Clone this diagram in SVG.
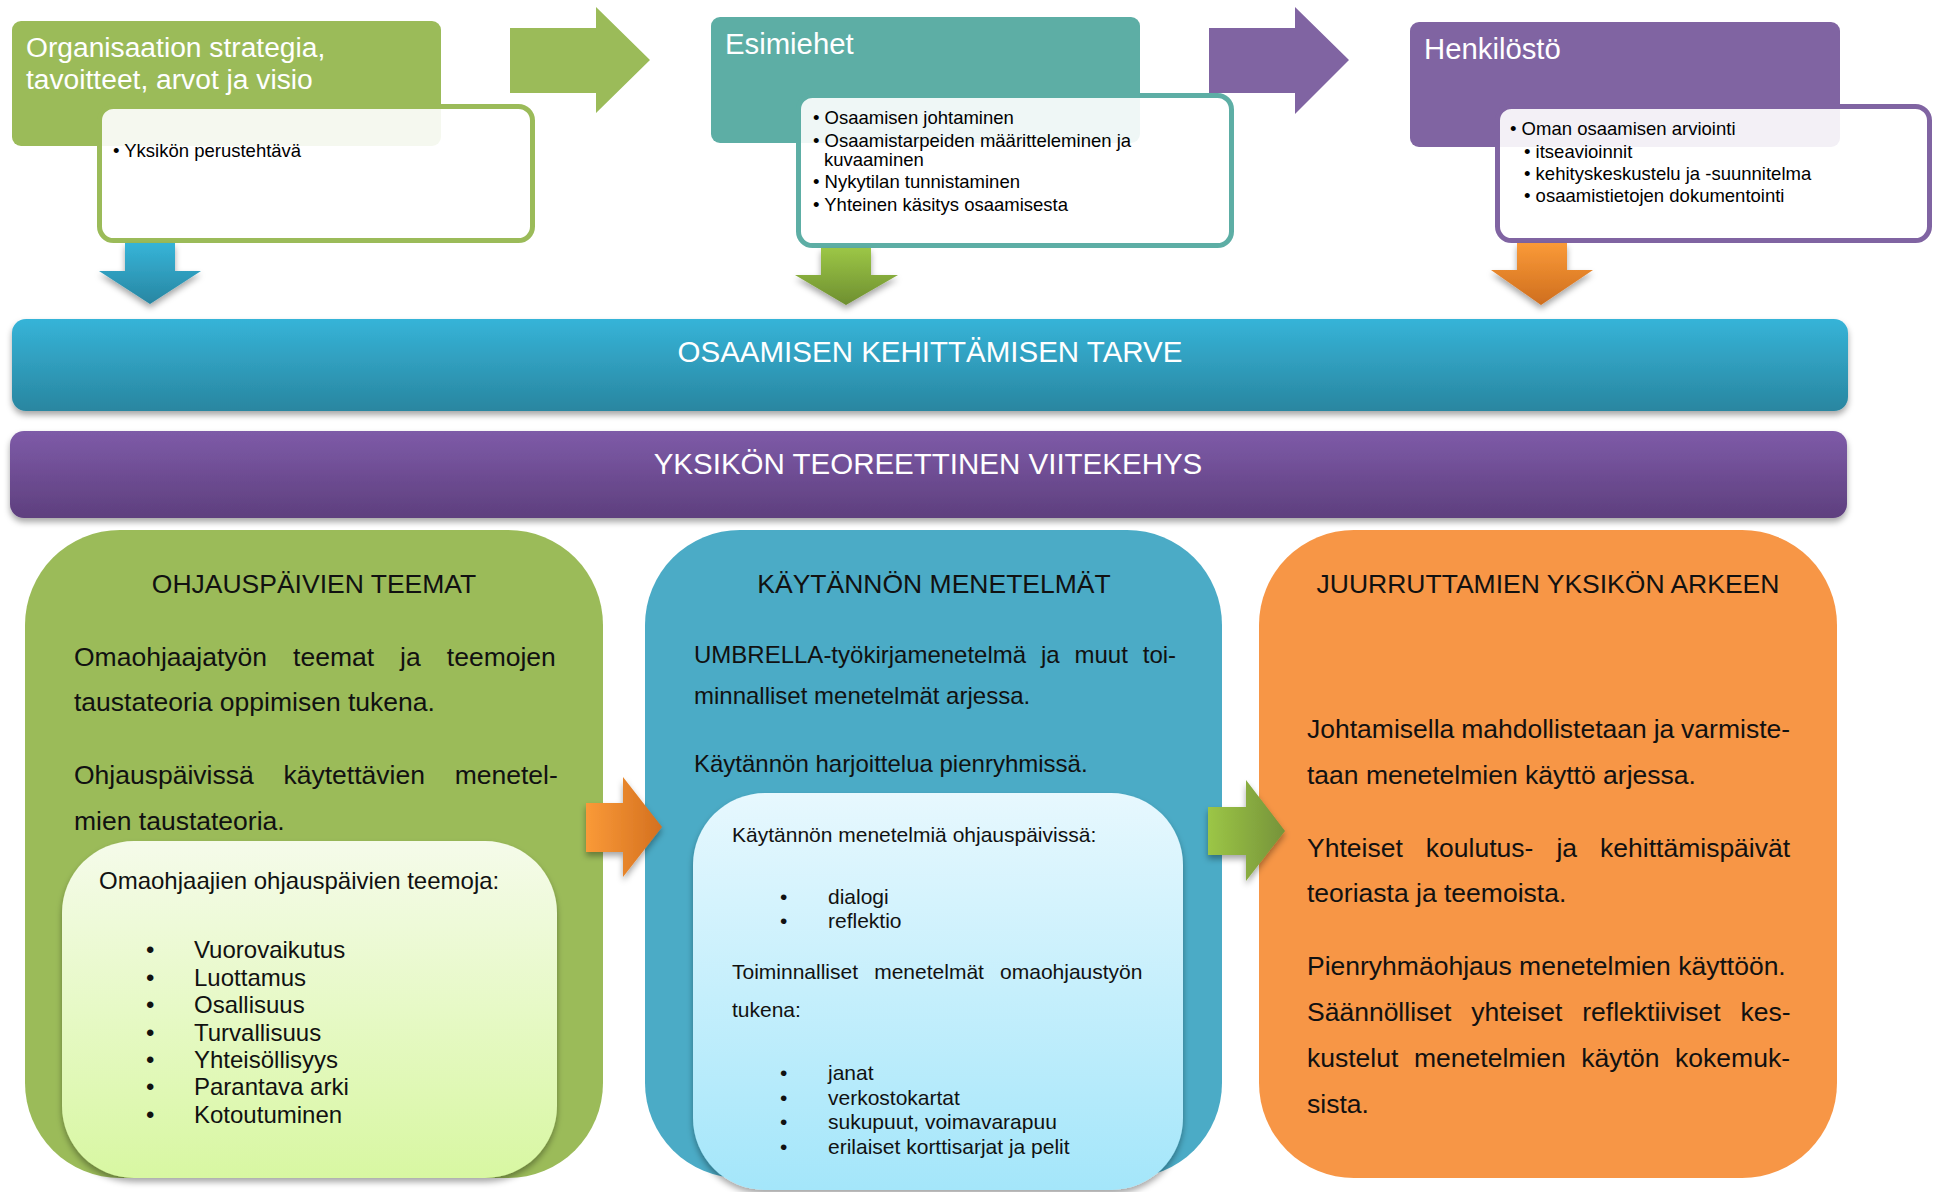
<svg xmlns="http://www.w3.org/2000/svg" width="1933" height="1192" viewBox="0 0 1933 1192">
<defs>
<style>
text{font-family:"Liberation Sans",Arial,sans-serif}
.hd{font-size:29.3px;fill:#fff}
.hd2{font-size:28.2px;fill:#fff}
.sb{font-size:18.5px;fill:#000}
.bar{font-size:29.5px;fill:#fff;text-anchor:middle}
.ttl{font-size:26.5px;fill:#111;text-anchor:middle}
.p26{font-size:26.5px;fill:#111}
.p24{font-size:24px;fill:#111}
.p21{font-size:21px;fill:#111}
.sub{fill:#fff;fill-opacity:0.9;stroke-width:5}
</style>
<linearGradient id="gCyan" x1="0" y1="0" x2="0" y2="1"><stop offset="0" stop-color="#36B4D8"/><stop offset="1" stop-color="#2986A0"/></linearGradient>
<linearGradient id="gPurp" x1="0" y1="0" x2="0" y2="1"><stop offset="0" stop-color="#7E5BA8"/><stop offset="1" stop-color="#5E3F7E"/></linearGradient>
<linearGradient id="gDownBlue" x1="0" y1="0" x2="0" y2="1"><stop offset="0" stop-color="#36B4D8"/><stop offset="1" stop-color="#2886A2"/></linearGradient>
<linearGradient id="gDownGreen" x1="0" y1="0" x2="0" y2="1"><stop offset="0" stop-color="#9CC646"/><stop offset="1" stop-color="#6E8F30"/></linearGradient>
<linearGradient id="gDownOrange" x1="0" y1="0" x2="0" y2="1"><stop offset="0" stop-color="#FA9A38"/><stop offset="1" stop-color="#CF6E1E"/></linearGradient>
<linearGradient id="gRightOrange" x1="0" y1="0" x2="1" y2="0"><stop offset="0" stop-color="#FA9A38"/><stop offset="1" stop-color="#D4701F"/></linearGradient>
<linearGradient id="gRightGreen" x1="0" y1="0" x2="1" y2="0"><stop offset="0" stop-color="#9CC646"/><stop offset="1" stop-color="#76933A"/></linearGradient>
<linearGradient id="gInGreen" x1="0" y1="0" x2="0" y2="1"><stop offset="0" stop-color="#F5FBEA"/><stop offset="1" stop-color="#D8F7A2"/></linearGradient>
<linearGradient id="gInBlue" x1="0" y1="0" x2="0" y2="1"><stop offset="0" stop-color="#E7F8FE"/><stop offset="1" stop-color="#A4E6FA"/></linearGradient>
<filter id="sh" x="-10%" y="-10%" width="120%" height="130%"><feDropShadow dx="0" dy="4" stdDeviation="3" flood-color="#000" flood-opacity="0.35"/></filter>
</defs>
<rect width="1933" height="1192" fill="#fff"/>

<g id="node-organisaatio">
<rect x="12" y="21" width="429" height="125" rx="9" fill="#9BBB59"/>
<text class="hd2" x="26" y="57">Organisaation strategia,</text>
<text class="hd2" x="26" y="89">tavoitteet, arvot ja visio</text>
<rect class="sub" x="99.5" y="106.5" width="433" height="134" rx="14" stroke="#9BBB59"/>
<text class="sb" x="113" y="157">• Yksikön perustehtävä</text>
</g>

<g id="node-esimiehet">
<rect x="711" y="17" width="429" height="126" rx="9" fill="#5DAEA5"/>
<text class="hd" x="725" y="54">Esimiehet</text>
<rect class="sub" x="798.5" y="95.5" width="433" height="150" rx="14" stroke="#5DAEA5"/>
<text class="sb" x="813" y="124">• Osaamisen johtaminen</text>
<text class="sb" x="813" y="147">• Osaamistarpeiden määritteleminen ja</text>
<text class="sb" x="824" y="166">kuvaaminen</text>
<text class="sb" x="813" y="188">• Nykytilan tunnistaminen</text>
<text class="sb" x="813" y="211">• Yhteinen käsitys osaamisesta</text>
</g>

<g id="node-henkilosto">
<rect x="1410" y="22" width="430" height="125" rx="9" fill="#8064A2"/>
<text class="hd" x="1424" y="59">Henkilöstö</text>
<rect class="sub" x="1497.5" y="106.5" width="432" height="134" rx="14" stroke="#8064A2"/>
<text class="sb" x="1510" y="135">• Oman osaamisen arviointi</text>
<text class="sb" x="1524" y="158">• itseavioinnit</text>
<text class="sb" x="1524" y="180">• kehityskeskustelu ja -suunnitelma</text>
<text class="sb" x="1524" y="202">• osaamistietojen dokumentointi</text>
</g>

<g id="node-tarve">
<rect x="12" y="319" width="1836" height="92" rx="14" fill="url(#gCyan)" filter="url(#sh)"/>
<text class="bar" x="930" y="362">OSAAMISEN KEHITTÄMISEN TARVE</text>
</g>

<g id="node-viitekehys">
<rect x="10" y="431" width="1837" height="87" rx="14" fill="url(#gPurp)" filter="url(#sh)"/>
<text class="bar" x="928" y="474">YKSIKÖN TEOREETTINEN VIITEKEHYS</text>
</g>

<g id="node-teemat">
<rect x="25" y="530" width="578" height="648" rx="95" fill="#9BBB59"/>
<text class="ttl" x="314" y="593">OHJAUSPÄIVIEN TEEMAT</text>
<text class="p26" x="74" y="666" word-spacing="18.7">Omaohjaajatyön teemat ja teemojen</text>
<text class="p26" x="74" y="711">taustateoria oppimisen tukena.</text>
<text class="p26" x="74" y="784" word-spacing="22.4">Ohjauspäivissä käytettävien menetel-</text>
<text class="p26" x="74" y="830">mien taustateoria.</text>
<rect x="62" y="841" width="495" height="337" rx="72" fill="url(#gInGreen)" filter="url(#sh)"/>
<text class="p24" x="99" y="889">Omaohjaajien ohjauspäivien teemoja:</text>
<text class="p24" y="958"><tspan x="146">•</tspan><tspan x="194">Vuorovaikutus</tspan></text>
<text class="p24" y="986"><tspan x="146">•</tspan><tspan x="194">Luottamus</tspan></text>
<text class="p24" y="1013"><tspan x="146">•</tspan><tspan x="194">Osallisuus</tspan></text>
<text class="p24" y="1041"><tspan x="146">•</tspan><tspan x="194">Turvallisuus</tspan></text>
<text class="p24" y="1068"><tspan x="146">•</tspan><tspan x="194">Yhteisöllisyys</tspan></text>
<text class="p24" y="1095"><tspan x="146">•</tspan><tspan x="194">Parantava arki</tspan></text>
<text class="p24" y="1123"><tspan x="146">•</tspan><tspan x="194">Kotoutuminen</tspan></text>
</g>

<g id="node-menetelmat">
<rect x="645" y="530" width="577" height="648" rx="95" fill="#4BABC6"/>
<text class="ttl" x="934" y="593">KÄYTÄNNÖN MENETELMÄT</text>
<text class="p24" x="694" y="663" word-spacing="8.2">UMBRELLA-työkirjamenetelmä ja muut toi-</text>
<text class="p24" x="694" y="704">minnalliset menetelmät arjessa.</text>
<text class="p24" x="694" y="772">Käytännön harjoittelua pienryhmissä.</text>
<rect x="693" y="793" width="490" height="397" rx="72" fill="url(#gInBlue)" filter="url(#sh)"/>
<text class="p21" x="732" y="842">Käytännön menetelmiä ohjauspäivissä:</text>
<text class="p21" y="904"><tspan x="780">•</tspan><tspan x="828">dialogi</tspan></text>
<text class="p21" y="928"><tspan x="780">•</tspan><tspan x="828">reflektio</tspan></text>
<text class="p21" x="732" y="979" word-spacing="10.3">Toiminnalliset menetelmät omaohjaustyön</text>
<text class="p21" x="732" y="1017">tukena:</text>
<text class="p21" y="1080"><tspan x="780">•</tspan><tspan x="828">janat</tspan></text>
<text class="p21" y="1105"><tspan x="780">•</tspan><tspan x="828">verkostokartat</tspan></text>
<text class="p21" y="1129"><tspan x="780">•</tspan><tspan x="828">sukupuut, voimavarapuu</tspan></text>
<text class="p21" y="1154"><tspan x="780">•</tspan><tspan x="828">erilaiset korttisarjat ja pelit</tspan></text>
</g>

<g id="node-juurruttaminen">
<rect x="1259" y="530" width="578" height="648" rx="95" fill="#F79646"/>
<text class="ttl" x="1548" y="593">JUURRUTTAMIEN YKSIKÖN ARKEEN</text>
<text class="p26" x="1307" y="738" word-spacing="-0.5">Johtamisella mahdollistetaan ja varmiste-</text>
<text class="p26" x="1307" y="784">taan menetelmien käyttö arjessa.</text>
<text class="p26" x="1307" y="857" word-spacing="15.7">Yhteiset koulutus- ja kehittämispäivät</text>
<text class="p26" x="1307" y="902">teoriasta ja teemoista.</text>
<text class="p26" x="1307" y="975">Pienryhmäohjaus menetelmien käyttöön.</text>
<text class="p26" x="1307" y="1021" word-spacing="12.4">Säännölliset yhteiset reflektiiviset kes-</text>
<text class="p26" x="1307" y="1067" word-spacing="8.3">kustelut menetelmien käytön kokemuk-</text>
<text class="p26" x="1307" y="1113">sista.</text>
</g>

<g id="connectors">
<polygon points="510,28 596,28 596,7 650,60 596,113 596,93 510,93" fill="#9BBB59"/>
<polygon points="1209,28 1295,28 1295,7 1349,60 1295,114 1295,93 1209,93" fill="#8064A2"/>
<polygon points="125,243 175,243 175,271 201,271 150,304 99,271 125,271" fill="url(#gDownBlue)" filter="url(#sh)"/>
<polygon points="821,248 871,248 871,275 898,275 846,305 795,275 821,275" fill="url(#gDownGreen)" filter="url(#sh)"/>
<polygon points="1517,243 1567,243 1567,270 1593,270 1541,305 1491,270 1517,270" fill="url(#gDownOrange)" filter="url(#sh)"/>
<polygon points="586,803 623,803 623,777 662,827 623,877 623,852 586,852" fill="url(#gRightOrange)" filter="url(#sh)"/>
<polygon points="1208,807 1246,807 1246,780 1285,831 1246,881 1246,855 1208,855" fill="url(#gRightGreen)" filter="url(#sh)"/>
</g>
</svg>
